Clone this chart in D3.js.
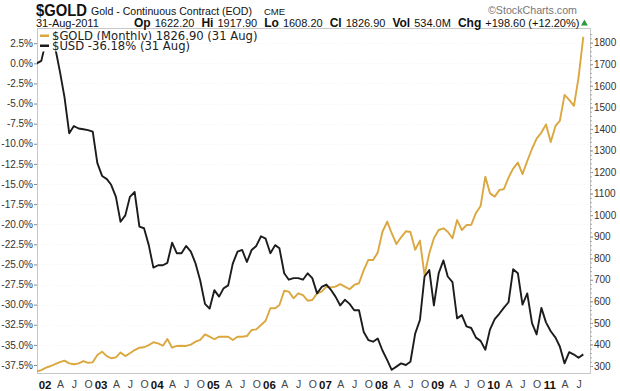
<!DOCTYPE html>
<html>
<head>
<meta charset="utf-8">
<script src="https://cdn.jsdelivr.net/npm/d3@7"></script>
<style>
  body { margin: 0; background: #fff; }
  svg { display: block; font-family: "Liberation Sans", Arial, sans-serif; }
</style>
</head>
<body>
<svg id="chart"></svg>
<script>
// monthly closes, Nov 2001 .. Aug 2011
const startMonth = new Date(2001, 10, 1);

const usdPct = [
  0, 0.3, 2.8, 2.7, 2.0, -1.0, -4.2, -8.7, -7.8, -8.1, -8.2, -8.3, -8.5,
  -12.4, -14.0, -14.4, -15.1, -16.6, -19.7, -18.9, -16.6, -16.0, -20.3, -20.5, -22.6, -25.4,
  -25.1, -25.1, -24.8, -22.3, -23.6, -23.6, -22.7, -23.4, -24.9, -27.0, -29.9, -30.5,
  -28.2, -29.0, -28.0, -27.6, -24.9, -23.4, -23.2, -24.7, -23.2, -22.7, -21.5, -21.8,
  -23.6, -22.6, -23.0, -26.1, -26.9, -26.7, -26.7, -26.9, -26.1, -26.7, -28.6, -27.8,
  -27.5, -28.2, -29.0, -30.1, -29.4, -29.9, -30.7, -30.7, -33.4, -34.4, -34.6, -34.2,
  -35.7, -36.9, -38.1, -37.7, -37.3, -37.5, -37.1, -33.6, -31.9, -26.5, -25.7, -30.1,
  -26.1, -24.5, -26.5, -27.2, -31.7, -31.3, -32.7, -32.9, -34.1, -34.5, -35.6, -33.1,
  -31.8, -31.1, -30.4, -29.7, -25.6, -26.1, -30.0, -28.6, -32.3, -33.7, -30.4, -32.2,
  -33.3, -34.1, -35.2, -37.3, -35.9, -36.2, -36.6, -36.18
];

const goldClose = [
  275, 281, 292, 300, 309, 318, 325, 312, 308, 312, 323, 315, 317,
  351, 366, 346, 336, 340, 363, 346, 359, 374, 385, 387, 397, 410,
  405, 394, 425, 385, 393, 394, 393, 399, 413, 421, 447, 436,
  424, 436, 436, 436, 421, 436, 436, 439, 467, 470, 490, 510,
  568, 568, 583, 649, 645, 614, 637, 629, 603, 606, 637, 645,
  668, 665, 668, 680, 668, 656, 676, 684, 745, 792, 792, 826,
  923, 970, 916, 866, 897, 925, 922, 839, 882, 722, 823, 893,
  931, 939, 923, 893, 977, 931, 954, 955, 1010, 1042, 1178, 1101,
  1086, 1117, 1120, 1174, 1216, 1244, 1190, 1251, 1308, 1355, 1383, 1421,
  1339, 1414, 1437, 1558, 1535, 1507, 1638, 1826.9
];

const leftTicks = d3.range(1, -16, -1).map(k => k * 2.5);
const rightTicks = d3.range(300, 1801, 100);
const monthLetters = ["", "", "", "A", "", "", "J", "", "", "O", "", ""];

const headerTop = ["$GOLD", "Gold - Continuous Contract (EOD)", "CME"];
const headerDate = "31-Aug-2011";
const headerQuote = [["Op", "1622.20"], ["Hi", "1917.90"], ["Lo", "1608.20"], ["Cl", "1826.90"], ["Vol", "534.0M"], ["Chg", "+198.60 (+12.20%)"]];
const legendLabels = ["$GOLD (Monthly) 1826.90 (31 Aug)", "$USD -36.18% (31 Aug)"];

const W = 620, H = 391;
const plot = { left: 37, right: 590, top: 28, bottom: 373 };
const goldColor = "#dba73f", usdColor = "#1c1c1c";

const svg = d3.select("#chart").attr("width", W).attr("height", H);

const months = goldClose.map((d, i) => d3.timeMonth.offset(startMonth, i));

const x = d3.scaleTime()
  .domain([months[0], months[months.length - 1]])
  .range([36.7, 583.3]);

const yPct = d3.scaleLinear().domain([2.5, -37.5]).range([43.2, 365]);
const yGold = d3.scaleLinear().domain([1800, 300]).range([42.7, 366]);

// frame
svg.append("rect")
  .attr("x", plot.left + 0.5).attr("y", plot.top + 0.5)
  .attr("width", plot.right - plot.left).attr("height", plot.bottom - plot.top)
  .attr("fill", "#fff").attr("stroke", "#c8c8c8");

// faint grid
const grid = svg.append("g").attr("stroke", "#f3f3f3").attr("stroke-dasharray", "1,2");
grid.selectAll("line").data(leftTicks).join("line")
  .attr("x1", plot.left + 1).attr("x2", plot.right)
  .attr("y1", d => Math.round(yPct(d)) + 0.5).attr("y2", d => Math.round(yPct(d)) + 0.5);

// left axis
const leftAxis = svg.append("g")
  .attr("transform", `translate(${plot.left},0)`)
  .call(d3.axisLeft(yPct).tickValues(leftTicks).tickSize(3).tickPadding(1)
    .tickFormat(d => d.toFixed(1) + "%"));
leftAxis.select(".domain").remove();
leftAxis.selectAll("line").attr("stroke", "#888");
leftAxis.selectAll("text").attr("font-size", 10).attr("fill", "#333")
  .attr("font-family", "Liberation Sans, Arial, sans-serif");

// right axis
const rightAxis = svg.append("g")
  .attr("transform", `translate(${plot.right},0)`)
  .call(d3.axisRight(yGold).tickValues(rightTicks).tickSize(3).tickPadding(1)
    .tickFormat(d3.format("d")));
rightAxis.select(".domain").remove();
rightAxis.selectAll("line").attr("stroke", "#888");
rightAxis.selectAll("text").attr("font-size", 10).attr("fill", "#333")
  .attr("font-family", "Liberation Sans, Arial, sans-serif");

const minor = svg.append("g")
  .attr("transform", `translate(${plot.right},0)`)
  .call(d3.axisRight(yGold).tickValues(d3.range(300, 1841, 20)).tickSize(2).tickFormat(""));
minor.select(".domain").remove();
minor.selectAll("line").attr("stroke", "#aaa");

// bottom axis
const quarterTicks = d3.timeMonth.range(new Date(2002, 0, 1), new Date(2011, 7, 2), 3);
const bottomAxis = svg.append("g")
  .attr("transform", `translate(0,${plot.bottom})`)
  .call(d3.axisBottom(x).tickValues(quarterTicks).tickSize(0).tickPadding(8)
    .tickFormat(d => d.getMonth() === 0 ? d3.timeFormat("%y")(d) : monthLetters[d.getMonth()]));
bottomAxis.select(".domain").remove();
bottomAxis.selectAll("text")
  .attr("font-family", "Liberation Sans, Arial, sans-serif")
  .attr("font-size", d => d.getMonth() === 0 ? 11.5 : 10.5)
  .attr("font-weight", d => d.getMonth() === 0 ? "bold" : "normal")
  .attr("fill", d => d.getMonth() === 0 ? "#111" : "#444")
  .attr("dx", d => d.getMonth() === 0 ? -1.5 : 0);

// series
const usdLine = d3.line().x((d, i) => x(months[i])).y(d => yPct(d));
const goldLine = d3.line().x((d, i) => x(months[i])).y(d => yGold(d));

svg.append("clipPath").attr("id", "clip").append("rect")
  .attr("x", plot.left).attr("y", plot.top + 1)
  .attr("width", plot.right - plot.left).attr("height", plot.bottom - plot.top);

const series = svg.append("g").attr("clip-path", "url(#clip)");
series.append("path").datum(goldClose)
  .attr("d", goldLine).attr("fill", "none")
  .attr("stroke", goldColor).attr("stroke-width", 1.9).attr("stroke-linejoin", "round");
series.append("path").datum(usdPct)
  .attr("d", usdLine).attr("fill", "none")
  .attr("stroke", usdColor).attr("stroke-width", 1.9).attr("stroke-linejoin", "round");

// legend, drawn over the lines with a white backing
const legend = svg.append("g").attr("font-family", "DejaVu Sans, Verdana, sans-serif").attr("font-size", 11.6);
[goldColor, usdColor].forEach((c, i) => {
  const yy = 35.5 + i * 10;
  const row = legend.append("g");
  const bg = row.append("rect").attr("fill", "#fff");
  row.append("rect").attr("x", 40).attr("y", yy - 1).attr("width", 9).attr("height", 2.5).attr("fill", c);
  const t = row.append("text").attr("x", 52).attr("y", yy + 4).attr("fill", "#222").text(legendLabels[i]);
  const b = t.node().getBBox();
  bg.attr("x", 39).attr("y", b.y + 1.5).attr("width", b.x + b.width - 38).attr("height", b.height - 2.5);
});

// header
const head = svg.append("g").attr("fill", "#111");
head.append("text").attr("x", 36).attr("y", 16).attr("font-size", 16).attr("font-weight", "bold")
  .attr("textLength", 51).attr("lengthAdjust", "spacingAndGlyphs").text(headerTop[0]);
head.append("text").attr("x", 91).attr("y", 15).attr("font-size", 11.5)
  .attr("textLength", 161).attr("lengthAdjust", "spacingAndGlyphs").text(headerTop[1]);
head.append("text").attr("x", 264).attr("y", 15).attr("font-size", 9.5).text(headerTop[2]);
head.append("text").attr("x", 488).attr("y", 14).attr("font-size", 11).attr("fill", "#777")
  .attr("textLength", 89).attr("lengthAdjust", "spacingAndGlyphs").text("\u00a9StockCharts.com");

head.append("text").attr("x", 36).attr("y", 27).attr("font-size", 11).text(headerDate);

let qx = 134;
headerQuote.forEach(([k, v]) => {
  const kt = head.append("text").attr("x", qx).attr("y", 27).attr("font-size", 12).attr("font-weight", "bold").text(k);
  qx += kt.node().getComputedTextLength() + 4;
  const vt = head.append("text").attr("x", qx).attr("y", 27).attr("font-size", 11).text(v);
  qx += vt.node().getComputedTextLength() + 7;
});
head.append("path")
  .attr("d", d3.symbol(d3.symbolTriangle, 20)())
  .attr("transform", `translate(${qx - 2},23.5)`).attr("fill", "#2a9a3a");
</script>
</body>
</html>
